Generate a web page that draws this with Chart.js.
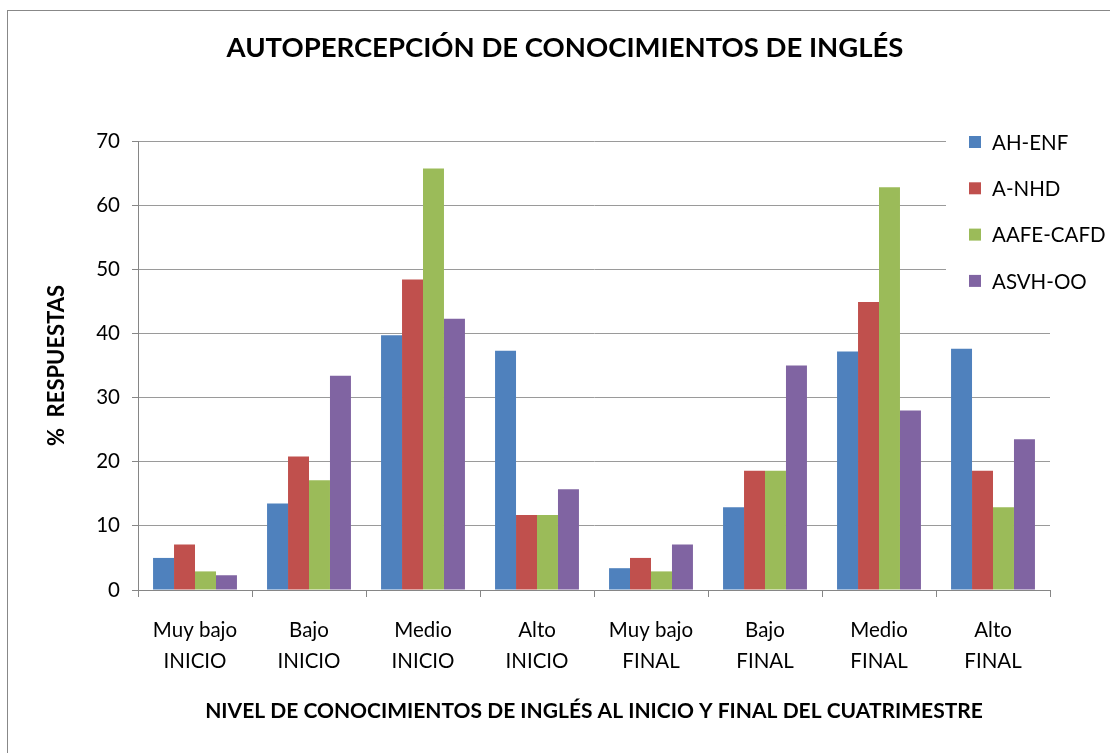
<!DOCTYPE html>
<html>
<head>
<meta charset="utf-8">
<script src="https://cdn.jsdelivr.net/npm/chart.js@4/dist/chart.umd.min.js"></script>
<style>
  html, body { margin: 0; padding: 0; background: #fff; }
  #wrap { width: 1110px; height: 753px; position: relative; }
</style>
</head>
<body>
<div id="wrap"><canvas id="c" width="1110" height="753"></canvas></div>
<script>
const categories = [
  ['Muy bajo', 'INICIO'], ['Bajo', 'INICIO'], ['Medio', 'INICIO'], ['Alto', 'INICIO'],
  ['Muy bajo', 'FINAL'], ['Bajo', 'FINAL'], ['Medio', 'FINAL'], ['Alto', 'FINAL']
];
const seriesNames = ['AH-ENF', 'A-NHD', 'AAFE-CAFD', 'ASVH-OO'];
const ahEnf    = [5.0, 13.5, 39.7, 37.3, 3.4, 12.9, 37.2, 37.6];
const aNhd     = [7.1, 20.8, 48.4, 11.7, 5.0, 18.6, 44.9, 18.6];
const aafeCafd = [2.9, 17.1, 65.7, 11.7, 2.9, 18.6, 62.8, 12.9];
const asvhOo   = [2.3, 33.4, 42.3, 15.7, 7.1, 35.0, 28.0, 23.5];
const seriesColors = ['#4F81BD', '#C0504D', '#9BBB59', '#8064A2'];
const yTicks = [0, 10, 20, 30, 40, 50, 60, 70];
const titleText = 'AUTOPERCEPCIÓN DE CONOCIMIENTOS DE INGLÉS';
const xTitle = 'NIVEL DE CONOCIMIENTOS DE INGLÉS AL INICIO Y FINAL DEL CUATRIMESTRE';
const yTitle = '%  RESPUESTAS';

const FONT = 'Lato, "Open Sans", sans-serif';

const frameAndLegend = {
  id: 'frameAndLegend',
  beforeDraw(chart) {
    const ctx = chart.ctx;
    ctx.save();
    ctx.fillStyle = '#fff';
    ctx.fillRect(0, 0, chart.width, chart.height);
    ctx.strokeStyle = '#888';
    ctx.lineWidth = 1;
    ctx.strokeRect(7.5, 10.5, 1300, 900);
    ctx.restore();
  },
  afterDraw(chart) {
    const ctx = chart.ctx;
    ctx.save();
    ctx.fillStyle = '#fff';
    ctx.fillRect(946, 122, 164, 178);
    ctx.font = '20.5px ' + FONT;
    ctx.textBaseline = 'middle';
    ctx.textAlign = 'left';
    chart.data.datasets.forEach((ds, i) => {
      const y = 142 + i * 46.3;
      ctx.fillStyle = ds.backgroundColor;
      ctx.fillRect(969, y - 6, 12, 12);
      ctx.fillStyle = '#000';
      ctx.fillText(ds.label, 992, y + 1);
    });
    ctx.restore();
  }
};

const values = [ahEnf, aNhd, aafeCafd, asvhOo];

new Chart(document.getElementById('c'), {
  type: 'bar',
  data: {
    labels: categories,
    datasets: seriesNames.map((n, i) => ({
      label: n,
      data: values[i],
      backgroundColor: seriesColors[i],
      borderWidth: 0,
      categoryPercentage: 0.736,
      barPercentage: 1.0
    }))
  },
  options: {
    responsive: false,
    animation: false,
    layout: { padding: { left: 20, right: 0, top: 0, bottom: 0 } },
    plugins: {
      legend: { display: false },
      tooltip: { enabled: false },
      title: {
        display: true,
        text: titleText,
        color: '#000',
        font: { family: FONT, size: 27.5, weight: 'bold', lineHeight: 1.2 },
        padding: { top: 31.5, bottom: 76.5 }
      }
    },
    scales: {
      x: {
        afterFit(scale) { scale.height = 163; },
        grid: { display: true, offset: true, drawOnChartArea: false, drawTicks: true, tickLength: 7, color: '#868686', tickColor: '#868686' },
        border: { display: true, color: '#868686', width: 1 },
        ticks: { color: '#000', font: { family: FONT, size: 20.5, lineHeight: 1.51 }, padding: 17.5, maxRotation: 0, autoSkip: false },
        title: { display: true, text: xTitle, color: '#000', font: { family: FONT, size: 21, weight: 'bold', lineHeight: 1.2 }, padding: { top: 0, bottom: 29.4 } }
      },
      y: {
        min: 0, max: 70,
        afterFit(scale) { scale.width = 118; },
        afterBuildTicks(scale) { scale.ticks = yTicks.map(v => ({ value: v })); },
        grid: { color: '#9a9a9a', borderDash: [2, 1], drawTicks: true, tickLength: 6, tickColor: '#868686', tickBorderDash: [] },
        border: { display: true, color: '#868686', width: 1 },
        ticks: { color: '#000', font: { family: FONT, size: 20.5 }, padding: 12 },
        title: { display: true, text: yTitle, color: '#000', font: { family: FONT, size: 22, weight: 'bold', lineHeight: 1.2 }, padding: { top: 24, bottom: 0 } }
      },
      yRightSpace: {
        position: 'right',
        display: true,
        min: 0, max: 70,
        afterFit(scale) { scale.width = 60; },
        grid: { display: false, drawOnChartArea: false },
        border: { display: false },
        ticks: { display: false }
      }
    }
  },
  plugins: [frameAndLegend]
});
</script>
</body>
</html>
